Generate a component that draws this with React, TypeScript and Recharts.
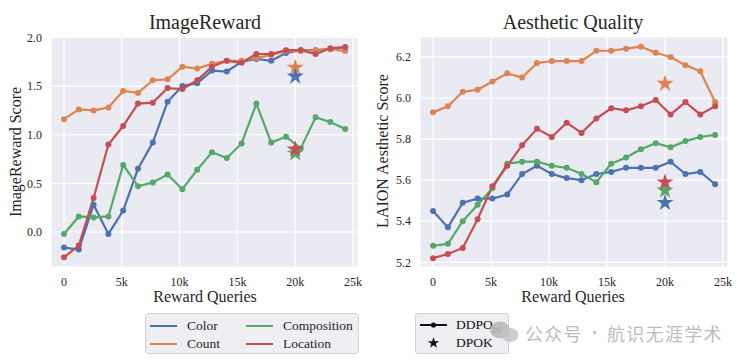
import React from 'react';
import { ComposedChart, Line, Scatter, XAxis, YAxis, CartesianGrid } from 'recharts';

const queries = [0, 1280, 2560, 3840, 5120, 6400, 7680, 8960, 10240, 11520, 12800, 14080, 15360, 16640, 17920, 19200, 20480, 21760, 23040, 24320];
const xTicks = [0, 5000, 10000, 15000, 20000, 25000];
const dpokQuery = 20000;

// ImageReward (left)
const irColor = [-0.16, -0.18, 0.28, -0.02, 0.22, 0.65, 0.92, 1.34, 1.5, 1.53, 1.66, 1.65, 1.75, 1.78, 1.76, 1.84, 1.87, 1.87, 1.88, 1.9];
const irCount = [1.16, 1.26, 1.25, 1.28, 1.45, 1.43, 1.56, 1.57, 1.7, 1.68, 1.73, 1.76, 1.76, 1.79, 1.82, 1.86, 1.86, 1.87, 1.88, 1.86];
const irComposition = [-0.02, 0.16, 0.15, 0.16, 0.69, 0.47, 0.51, 0.59, 0.44, 0.64, 0.82, 0.76, 0.91, 1.32, 0.92, 0.98, 0.86, 1.18, 1.13, 1.06];
const irLocation = [-0.26, -0.14, 0.35, 0.9, 1.09, 1.32, 1.33, 1.48, 1.47, 1.56, 1.7, 1.76, 1.74, 1.83, 1.83, 1.87, 1.87, 1.83, 1.89, 1.9];
const irDpok = { Color: 1.6, Count: 1.69, Composition: 0.81, Location: 0.85 };
const irTicks = [0, 0.5, 1.0, 1.5, 2.0];

// Aesthetic (right)
const aqColor = [5.45, 5.37, 5.49, 5.51, 5.51, 5.53, 5.63, 5.67, 5.63, 5.61, 5.6, 5.63, 5.64, 5.66, 5.66, 5.66, 5.69, 5.63, 5.64, 5.58];
const aqCount = [5.93, 5.96, 6.03, 6.04, 6.08, 6.12, 6.1, 6.17, 6.18, 6.18, 6.18, 6.23, 6.23, 6.24, 6.25, 6.22, 6.2, 6.16, 6.13, 5.98];
const aqComposition = [5.28, 5.29, 5.4, 5.48, 5.56, 5.68, 5.69, 5.69, 5.67, 5.66, 5.63, 5.59, 5.68, 5.71, 5.75, 5.78, 5.76, 5.79, 5.81, 5.82];
const aqLocation = [5.22, 5.24, 5.27, 5.41, 5.57, 5.67, 5.77, 5.85, 5.81, 5.88, 5.83, 5.9, 5.95, 5.94, 5.96, 5.99, 5.92, 5.98, 5.92, 5.96];
const aqDpok = { Color: 5.49, Count: 6.07, Composition: 5.55, Location: 5.59 };
const aqTicks = [5.2, 5.4, 5.6, 5.8, 6.0, 6.2];

const seriesNames = ['Color', 'Count', 'Composition', 'Location'] as const;
const colors: Record<string, string> = {
  Color: '#4C72B0',
  Count: '#DD8452',
  Composition: '#55A868',
  Location: '#C44E52',
};

const FONT = '"Liberation Serif", "DejaVu Serif", serif';
const TEXT = '#262626';

const toRows = (vals: number[]) => queries.map((q, i) => ({ x: q, y: vals[i] }));

const starPoints = (cx: number, cy: number, R: number) => {
  const r = R * 0.382;
  const pts: string[] = [];
  for (let k = 0; k < 10; k++) {
    const rad = k % 2 === 0 ? R : r;
    const a = -Math.PI / 2 + (k * Math.PI) / 5;
    pts.push(`${cx + rad * Math.cos(a)},${cy + rad * Math.sin(a)}`);
  }
  return pts.join(' ');
};

const StarShape = (props: any) => {
  const { cx, cy, fill } = props;
  if (cx == null || cy == null) return null;
  return <polygon points={starPoints(cx, cy, 9)} fill={fill} />;
};

const fmtK = (v: number) => (v === 0 ? '0' : `${v / 1000}k`);

type PanelProps = {
  width: number;
  height: number;
  yAxisWidth: number;
  marginRight: number;
  yDomain: [number, number];
  yTicks: number[];
  series: Record<string, number[]>;
  dpok: Record<string, number>;
  starOrder: string[];
};

const Panel = ({ width, height, yAxisWidth, marginRight, yDomain, yTicks, series, dpok, starOrder }: PanelProps) => (
  <ComposedChart width={width} height={height} margin={{ top: 37, right: marginRight, bottom: 3, left: 0 }}>
    <CartesianGrid stroke="#ffffff" strokeWidth={1.2} fill="#EAEAF2" />
    <XAxis
      type="number"
      dataKey="x"
      domain={[-1125, 25430]}
      ticks={xTicks}
      tickFormatter={fmtK}
      allowDataOverflow
      axisLine={false}
      tickLine={false}
      tickSize={6}
      tickMargin={4}
      height={30}
      tick={{ fontFamily: FONT, fontSize: 12, fill: TEXT }}
    />
    <YAxis
      type="number"
      dataKey="y"
      domain={yDomain}
      ticks={yTicks}
      tickFormatter={(v: number) => v.toFixed(1)}
      allowDataOverflow
      axisLine={false}
      tickLine={false}
      tickSize={6}
      tickMargin={3}
      width={yAxisWidth}
      tick={{ fontFamily: FONT, fontSize: 12, fill: TEXT }}
    />
    {seriesNames.map((n) => (
      <Line
        key={n}
        data={toRows(series[n])}
        dataKey="y"
        type="linear"
        stroke={colors[n]}
        strokeWidth={2.2}
        dot={{ r: 3, fill: colors[n], stroke: colors[n], strokeWidth: 0 }}
        isAnimationActive={false}
      />
    ))}
    {starOrder.map((n) => (
      <Scatter
        key={`s-${n}`}
        data={[{ x: dpokQuery, y: dpok[n] }]}
        dataKey="y"
        fill={colors[n]}
        shape={<StarShape />}
        isAnimationActive={false}
      />
    ))}
  </ComposedChart>
);

const LegendLine = ({ color }: { color: string }) => (
  <div style={{ width: 27, height: 2.2, background: color }} />
);

export default function App() {
  return (
    <div style={{ position: 'absolute', left: 0, top: 0, width: 756, height: 363, background: '#fff', overflow: 'hidden' }}>
      <div style={{ position: 'absolute', left: 0, top: 0 }}>
        <Panel
          width={378}
          height={300}
          yAxisWidth={51}
          marginRight={20}
          yDomain={[-0.36, 2.005]}
          yTicks={irTicks}
          series={{ Color: irColor, Count: irCount, Composition: irComposition, Location: irLocation }}
          dpok={irDpok}
          starOrder={['Count', 'Color', 'Composition', 'Location']}
        />
      </div>
      <div style={{ position: 'absolute', left: 370, top: 0 }}>
        <Panel
          width={386}
          height={300}
          yAxisWidth={50}
          marginRight={28}
          yDomain={[5.177, 6.297]}
          yTicks={aqTicks}
          series={{ Color: aqColor, Count: aqCount, Composition: aqComposition, Location: aqLocation }}
          dpok={aqDpok}
          starOrder={['Count', 'Color', 'Composition', 'Location']}
        />
      </div>

      <svg width={756} height={363} style={{ position: 'absolute', left: 0, top: 0, pointerEvents: 'none' }}>
        <g fontFamily={FONT} fill={TEXT}>
          <text x={205} y={29} fontSize={20} textAnchor="middle">ImageReward</text>
          <text x={573} y={29} fontSize={20} textAnchor="middle">Aesthetic Quality</text>
          <text x={205} y={302} fontSize={16} textAnchor="middle">Reward Queries</text>
          <text x={573} y={302} fontSize={16} textAnchor="middle">Reward Queries</text>
          <text x={15} y={152} fontSize={16} textAnchor="middle" dominantBaseline="central" transform="rotate(-90 15 152)">ImageReward Score</text>
          <text x={382} y={151} fontSize={16} textAnchor="middle" dominantBaseline="central" transform="rotate(-90 382 151)">LAION Aesthetic Score</text>
        </g>
      </svg>

      {/* Left legend */}
      <div
        style={{
          position: 'absolute', left: 145, top: 313, width: 212, height: 39,
          border: '1px solid #d4d4d8', borderRadius: 3, background: '#EEEEF3',
          fontFamily: FONT, fontSize: 13.5, color: TEXT,
        }}
      >
        {[
          ['Color', 'Composition'],
          ['Count', 'Location'],
        ].map((row, ri) => (
          <div key={ri} style={{ position: 'absolute', left: 0, top: ri === 0 ? 3 : 21, height: 18, width: 212 }}>
            {row.map((n, ci) => (
              <div key={n} style={{ position: 'absolute', left: ci === 0 ? 4 : 100, top: 0, height: 18, display: 'flex', alignItems: 'center' }}>
                <LegendLine color={colors[n]} />
                <span style={{ marginLeft: 10, lineHeight: '18px' }}>{n}</span>
              </div>
            ))}
          </div>
        ))}
      </div>

      {/* Right legend */}
      <div
        style={{
          position: 'absolute', left: 415, top: 313, width: 92, height: 39,
          border: '1px solid #d4d4d8', borderRadius: 3, background: '#EEEEF3',
          fontFamily: FONT, fontSize: 13.5, color: '#111',
        }}
      >
        <svg width={40} height={39} style={{ position: 'absolute', left: 0, top: 0 }}>
          <line x1={4} y1={11} x2={31} y2={11} stroke="#111" strokeWidth={2} />
          <circle cx={17.5} cy={11} r={2.6} fill="#111" />
          <polygon points={starPoints(17.5, 29, 6)} fill="#111" />
        </svg>
        <div style={{ position: 'absolute', left: 40, top: 2, lineHeight: '18px' }}>
          DDPO<sub style={{ fontSize: 9 }}>IS</sub>
        </div>
        <div style={{ position: 'absolute', left: 40, top: 20, lineHeight: '18px' }}>DPOK</div>
      </div>

      {/* Watermark */}
      <svg width={40} height={30} style={{ position: 'absolute', left: 488, top: 318 }}>
        <ellipse cx={12} cy={12} rx={10} ry={8.5} fill="#b5b5b5" opacity={0.85} />
        <ellipse cx={22} cy={17} rx={8.5} ry={7} fill="#c4c4c4" opacity={0.85} />
      </svg>
      <div
        style={{
          position: 'absolute', left: 525, top: 320, width: 210, height: 26, fontSize: 18,
          fontFamily: '"Noto Sans CJK SC", sans-serif', color: '#bdbdbd', whiteSpace: 'nowrap', lineHeight: '26px',
        }}
      >
        <span style={{ position: 'absolute', left: 0, letterSpacing: 1.3 }}>公众号</span>
        <span style={{ position: 'absolute', left: 67, fontFamily: '"Liberation Sans", sans-serif', fontWeight: 'bold' }}>·</span>
        <span style={{ position: 'absolute', left: 82, letterSpacing: 1.3 }}>航识无涯学术</span>
      </div>
    </div>
  );
}
